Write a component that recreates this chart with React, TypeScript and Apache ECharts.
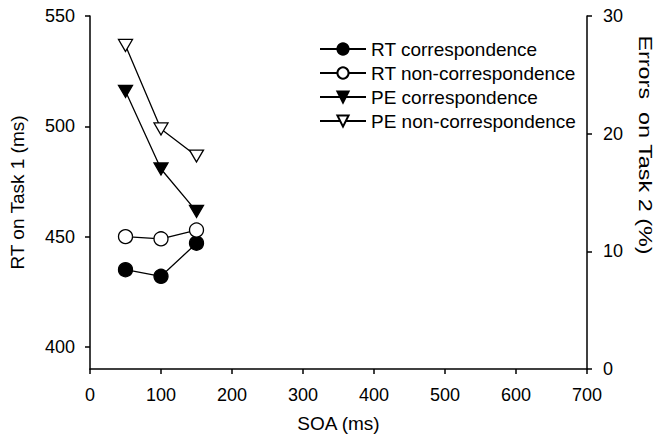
import React, { useEffect, useRef } from "react";
import * as echarts from "echarts";

const soa = [50, 100, 150];
const rtCorrespondence = [435, 432, 447];
const rtNonCorrespondence = [450, 449, 453];
const peCorrespondence = [23.6, 17.0, 13.4];
const peNonCorrespondence = [27.5, 20.4, 18.1];
const leftTicks = [400, 450, 500, 550];
const seriesNames = [
  "RT correspondence",
  "RT non-correspondence",
  "PE correspondence",
  "PE non-correspondence",
];

const FONT = "'Liberation Sans', Arial, sans-serif";

function pairs(xs: number[], ys: number[]) {
  return xs.map((x, i) => [x, ys[i]]);
}

export default function App() {
  const ref = useRef<HTMLDivElement>(null);
  useEffect(() => {
    document.body.style.margin = "0";
    if (!ref.current) return;
    const chart = echarts.init(ref.current, null, { renderer: "svg" });
    const axisCommon = {
      axisLine: { show: true, lineStyle: { color: "#000", width: 1.5 } },
      axisTick: { show: true, length: 5, lineStyle: { color: "#000", width: 1.5 } },
      splitLine: { show: false },
    };
    const lineStyle = { color: "#000", width: 1.3 };
    chart.setOption({
      animation: false,
      backgroundColor: "#fff",
      textStyle: { fontFamily: FONT, color: "#000" },
      grid: { left: 85, right: 67, top: 16, bottom: 70, containLabel: false },
      legend: {
        orient: "vertical",
        left: 314,
        top: 34,
        itemWidth: 46,
        itemHeight: 14,
        itemGap: 4,
        textStyle: { fontFamily: FONT, fontSize: 19, color: "#000", lineHeight: 20 },
        data: seriesNames,
      },
      xAxis: {
        type: "value",
        min: 0,
        max: 700,
        interval: 100,
        name: "SOA (ms)",
        nameLocation: "middle",
        nameGap: 45,
        nameTextStyle: { fontFamily: FONT, fontSize: 19, color: "#000" },
        axisLabel: { fontFamily: FONT, fontSize: 18, color: "#000", margin: 17 },
        ...axisCommon,
      },
      yAxis: [
        {
          type: "value",
          min: 390,
          max: 550,
          position: "left",
          name: "RT on Task 1 (ms)",
          nameLocation: "middle",
          nameGap: 63,
          nameTextStyle: { fontFamily: FONT, fontSize: 19, color: "#000" },
          axisLabel: { fontFamily: FONT, fontSize: 18, color: "#000", margin: 15, customValues: leftTicks },
          ...axisCommon,
          axisTick: { show: true, length: 5, lineStyle: { color: "#000", width: 1.5 }, customValues: leftTicks },
        },
        {
          type: "value",
          min: 0,
          max: 30,
          interval: 10,
          position: "right",
          axisLabel: { fontFamily: FONT, fontSize: 18, color: "#000", margin: 16 },
          ...axisCommon,
        },
      ],
      graphic: [
        {
          type: "text",
          x: 645,
          y: 145,
          rotation: -Math.PI / 2,
          scaleX: 1.3,
          style: {
            text: "Errors  on Task 2 (%)",
            fontFamily: FONT,
            fontSize: 18,
            fill: "#000",
            align: "center",
            verticalAlign: "middle",
          },
        },
      ],
      series: [
        {
          name: seriesNames[0],
          type: "line",
          yAxisIndex: 0,
          data: pairs(soa, rtCorrespondence),
          symbol: "circle",
          symbolSize: 14,
          lineStyle,
          itemStyle: { color: "#000", borderColor: "#000", borderWidth: 1.3 },
        },
        {
          name: seriesNames[1],
          type: "line",
          yAxisIndex: 0,
          data: pairs(soa, rtNonCorrespondence),
          symbol: "circle",
          symbolSize: 14,
          lineStyle,
          itemStyle: { color: "#fff", borderColor: "#000", borderWidth: 1.3 },
        },
        {
          name: seriesNames[2],
          type: "line",
          yAxisIndex: 1,
          data: pairs(soa, peCorrespondence),
          symbol: "triangle",
          symbolSize: [14, 12],
          symbolRotate: 180,
          lineStyle,
          itemStyle: { color: "#000", borderColor: "#000", borderWidth: 1.3 },
        },
        {
          name: seriesNames[3],
          type: "line",
          yAxisIndex: 1,
          data: pairs(soa, peNonCorrespondence),
          symbol: "triangle",
          symbolSize: [14, 12],
          symbolRotate: 180,
          lineStyle,
          itemStyle: { color: "#fff", borderColor: "#000", borderWidth: 1.3 },
        },
      ],
    });
    return () => chart.dispose();
  }, []);
  return (
    <div
      ref={ref}
      style={{ position: "fixed", left: 0, top: 0, width: 654, height: 439 }}
    />
  );
}
